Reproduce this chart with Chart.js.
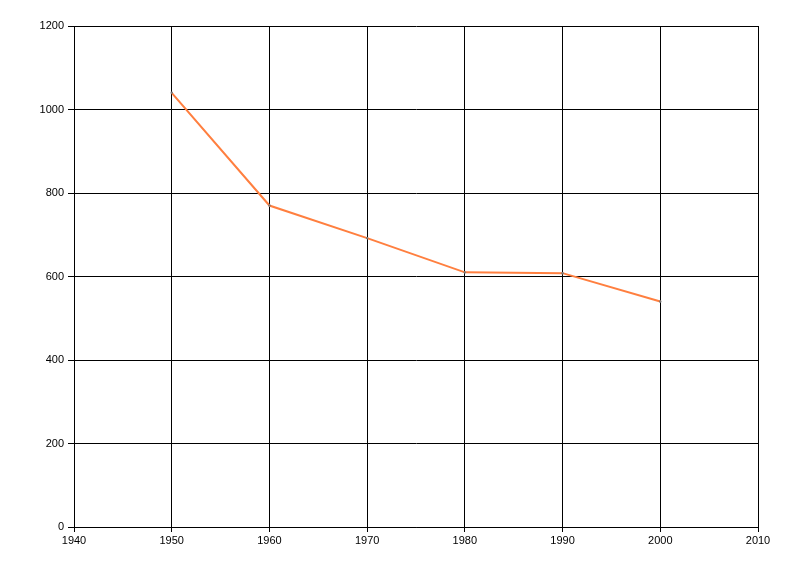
<!DOCTYPE html>
<html>
<head>
    <meta charset="UTF-8">
    <title>Line chart</title>
    <script src="https://cdn.jsdelivr.net/npm/chart.js"></script>
    <style>
        body {
            margin: 0;
            background: #ffffff;
        }
        #wrap {
            width: 800px;
            height: 576px;
        }
    </style>
</head>
<body>
    <div id="wrap">
        <canvas id="lineChart" width="800" height="576"></canvas>
    </div>

    <script>
        const years = [1950, 1960, 1970, 1980, 1990, 2000];
        const values = [1040, 770, 692, 610, 608, 540];
        const xTicks = [1940, 1950, 1960, 1970, 1980, 1990, 2000, 2010];
        const yTicks = [0, 200, 400, 600, 800, 1000, 1200];

        const points = years.map((y, i) => ({ x: y, y: values[i] }));

        const ctx = document.getElementById('lineChart').getContext('2d');
        const chart = new Chart(ctx, {
            type: 'line',
            data: {
                datasets: [{
                    data: points,
                    borderColor: '#ff7f3f',
                    borderWidth: 2,
                    tension: 0,
                    pointRadius: 1.2,
                    pointBackgroundColor: '#777777',
                    pointBorderWidth: 0
                }]
            },
            options: {
                responsive: false,
                animation: false,
                layout: {
                    padding: { left: 0, right: 42, top: 26, bottom: 0 }
                },
                plugins: {
                    legend: { display: false },
                    tooltip: { enabled: false }
                },
                scales: {
                    x: {
                        type: 'linear',
                        min: xTicks[0],
                        max: xTicks[xTicks.length - 1],
                        afterBuildTicks: (scale) => {
                            scale.ticks = xTicks.map(v => ({ value: v }));
                        },
                        afterFit: (scale) => { scale.height = 49; },
                        grid: {
                            color: '#000000',
                            lineWidth: 1,
                            tickLength: 5,
                            tickColor: '#000000'
                        },
                        border: { color: '#000000', width: 1 },
                        ticks: {
                            color: '#000000',
                            padding: 2,
                            maxRotation: 0,
                            font: { family: 'Liberation Sans, Arial, sans-serif', size: 11 },
                            callback: (v) => String(v)
                        }
                    },
                    y: {
                        min: yTicks[0],
                        max: yTicks[yTicks.length - 1],
                        afterBuildTicks: (scale) => {
                            scale.ticks = yTicks.map(v => ({ value: v }));
                        },
                        afterFit: (scale) => { scale.width = 74; },
                        grid: {
                            color: '#000000',
                            lineWidth: 1,
                            tickLength: 6,
                            tickColor: '#000000'
                        },
                        border: { color: '#000000', width: 1 },
                        ticks: {
                            color: '#000000',
                            padding: 4,
                            font: { family: 'Liberation Sans, Arial, sans-serif', size: 11 },
                            callback: (v) => String(v)
                        }
                    }
                }
            }
        });
    </script>
</body>
</html>
